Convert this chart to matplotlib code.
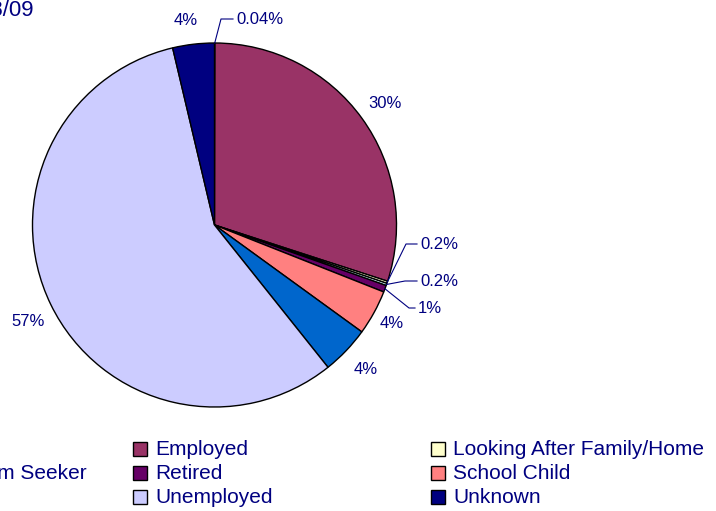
import matplotlib.pyplot as plt
from matplotlib.patches import Rectangle
import numpy as np

# slices, clockwise from 12 o'clock (legend is filled row by row)
categories = ["Carer", "Employed", "Looking After Family/Home",
              "Asylum Seeker", "Retired", "School Child",
              "Other", "Unemployed", "Unknown"]
values = [0.04, 30.0, 0.2, 0.2, 0.6, 4.0, 4.3, 57.1, 3.7]
pct_labels = ["0.04%", "30%", "0.2%", "0.2%", "1%", "4%", "4%", "57%", "4%"]
colors = ["#9999FF", "#993366", "#FFFFCC", "#CCFFFF", "#660066",
          "#FF8080", "#0066CC", "#CCCCFF", "#000080"]

navy = "#000080"
plt.rcParams['font.family'] = ['Liberation Sans', 'DejaVu Sans']

W, H = 716, 511
fig = plt.figure(figsize=(W/100, H/100), dpi=100)
ax = fig.add_axes([0, 0, 1, 1])

# pixel-like coordinates, y up
cx, cy, R = 214.5, H-225, 182
wedges, _ = ax.pie(values, colors=colors, startangle=90, counterclock=False,
                   center=(cx, cy), radius=R,
                   wedgeprops=dict(edgecolor="black", linewidth=1))
ax.set_xlim(0, W)
ax.set_ylim(0, H)
ax.set_aspect('auto')
ax.axis('off')

# label placement (image coords): centred labels, and leader-line labels
centred = {1: (385, 103), 5: (392, 323), 6: (366, 369), 7: (28, 321), 8: (186, 20)}
leader = {0: (236, 19, 221), 2: (420, 244, 406), 3: (420, 281, 405), 4: (418, 308, 409)}

for i, w in enumerate(wedges):
    if i in centred:
        x, y = centred[i]
        ax.text(x, H-y, pct_labels[i], ha='center', va='center',
                fontsize=12, color=navy)
    else:
        tx, ty, ex = leader[i]
        th = np.deg2rad((w.theta1 + w.theta2) / 2)
        rx, ry = cx + R*np.cos(th), cy + R*np.sin(th)
        ax.plot([rx, ex, tx-3], [ry, H-ty, H-ty], color=navy, lw=0.8)
        ax.text(tx, H-ty, pct_labels[i], ha='left', va='center',
                fontsize=12, color=navy)

# title (mostly off the left edge)
ax.text(33, H-16, "Employment Status 2008/09", ha='right', va='baseline',
        fontsize=16, color=navy)

# legend, 3 columns, first column mostly off-canvas
fig.canvas.draw()
probe = ax.text(0, 0, categories[3], fontsize=15)
wpx = probe.get_window_extent(fig.canvas.get_renderer()).width
probe.remove()
col_x = [87 - wpx - 22, 133, 431]
row_y = [449, 473, 497]
for i, lab in enumerate(categories):
    r, c = divmod(i, 3)
    x, y = col_x[c], H-row_y[r]
    ax.add_patch(Rectangle((x, y-7), 14, 14, facecolor=colors[i],
                           edgecolor="black", lw=1))
    ax.text(x+22, y, lab, ha='left', va='center', fontsize=15, color=navy)

fig.savefig("out.png", dpi=100)
